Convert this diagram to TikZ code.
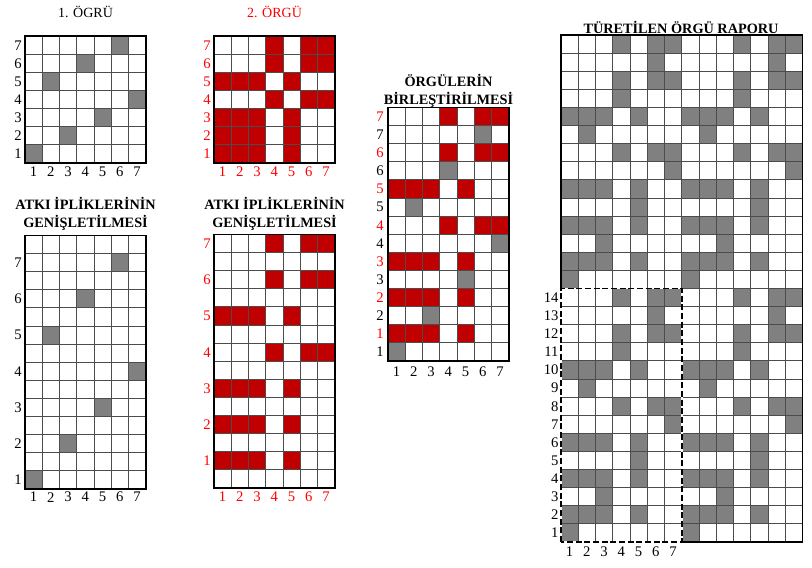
\documentclass[tikz,border=0pt]{standalone}
\usepackage{fontspec}
\setmainfont{Liberation Serif}
\usepackage{tikz}
\definecolor{weavegray}{RGB}{128,128,128}
\definecolor{weavered}{RGB}{192,0,0}
\definecolor{labelred}{RGB}{255,0,0}

\begin{document}
\begin{tikzpicture}[x=0.75pt,y=0.75pt,
  cell/.style={x=12.94pt,y=13.58pt},
  gridln/.style={gray!60!black,line width=0.7pt},
  frame/.style={black,line width=1.3pt},
  num/.style={font=\fontsize{11}{12}\selectfont,inner sep=1pt},
  rnum/.style={num,text=labelred},
  title/.style={font=\bfseries\fontsize{10.7}{13.5}\selectfont,align=center}]
\useasboundingbox (0,0) rectangle (812,567);

% 1. orgu
\node[font=\fontsize{10.5}{12}\selectfont] (t1) at (85.5,555) {1. ÖGRÜ};
\begin{scope}[shift={(25,404)},cell]
\foreach \c/\r in {1/1,3/2,5/3,7/4,2/5,4/6,6/7}
  \fill[weavegray] (\c-1,\r-1) rectangle ++(1,1);
\draw[gridln] (0,0) grid[step={(1,1)}] (7,7);
\draw[frame] (0,0) rectangle (7,7);
\foreach \i in {1,...,7}
{
  \node[num,anchor=east] (g1r\i) at (-0.1,\i-0.5) {\i};
  \node[num] (g1c\i) at (\i-0.5,-0.5) {\i};
}
\end{scope}

% 2. orgu
\node[font=\fontsize{10.5}{12}\selectfont,text=labelred] (t2) at (274.5,555) {2. ÖRGÜ};
\begin{scope}[shift={(214,404)},cell]
\foreach \r in {1,2,3,5}
  \foreach \c in {1,2,3,5}
    \fill[weavered] (\c-1,\r-1) rectangle ++(1,1);
\foreach \r in {4,6,7}
  \foreach \c in {4,6,7}
    \fill[weavered] (\c-1,\r-1) rectangle ++(1,1);
\draw[gridln] (0,0) grid[step={(1,1)}] (7,7);
\draw[frame] (0,0) rectangle (7,7);
\foreach \i in {1,...,7}
{
  \node[rnum,anchor=east] (g2r\i) at (-0.1,\i-0.5) {\i};
  \node[rnum] (g2c\i) at (\i-0.5,-0.5) {\i};
}
\end{scope}

% atki iplikleri (1)
\node[title] (t3) at (85.5,353) {ATKI İPLİKLERİNİN\\GENİŞLETİLMESİ};
\begin{scope}[shift={(25,78)},cell]
\foreach \c/\r in {1/1,3/2,5/3,7/4,2/5,4/6,6/7}
  \fill[weavegray] (\c-1,2*\r-2) rectangle ++(1,1);
\draw[gridln] (0,0) grid[step={(1,1)}] (7,14);
\draw[frame] (0,0) rectangle (7,14);
\foreach \i in {1,...,7}
{
  \node[num,anchor=east] (g3r\i) at (-0.1,2*\i-1.5) {\i};
  \node[num] (g3c\i) at (\i-0.5,-0.45) {\i};
}
\end{scope}

% atki iplikleri (2)
\node[title] (t4) at (274.5,353) {ATKI İPLİKLERİNİN\\GENİŞLETİLMESİ};
\begin{scope}[shift={(214,79)},cell]
\foreach \r in {1,2,3,5}
  \foreach \c in {1,2,3,5}
    \fill[weavered] (\c-1,2*\r-1) rectangle ++(1,1);
\foreach \r in {4,6,7}
  \foreach \c in {4,6,7}
    \fill[weavered] (\c-1,2*\r-1) rectangle ++(1,1);
\draw[gridln] (0,0) grid[step={(1,1)}] (7,14);
\draw[frame] (0,0) rectangle (7,14);
\foreach \i in {1,...,7}
{
  \node[rnum,anchor=east] (g4r\i) at (-0.1,2*\i-0.5) {\i};
  \node[rnum] (g4c\i) at (\i-0.5,-0.5) {\i};
}
\end{scope}

% birlestirme
\node[title] (t5) at (448.5,476.5) {ÖRGÜLERİN\\BİRLEŞTİRİLMESİ};
\begin{scope}[shift={(388,206)},cell]
\foreach \c/\r in {1/1,3/2,5/3,7/4,2/5,4/6,6/7}
  \fill[weavegray] (\c-1,2*\r-2) rectangle ++(1,1);
\foreach \r in {1,2,3,5}
  \foreach \c in {1,2,3,5}
    \fill[weavered] (\c-1,2*\r-1) rectangle ++(1,1);
\foreach \r in {4,6,7}
  \foreach \c in {4,6,7}
    \fill[weavered] (\c-1,2*\r-1) rectangle ++(1,1);
\draw[gridln] (0,0) grid[step={(1,1)}] (7,14);
\draw[frame] (0,0) rectangle (7,14);
\foreach \i in {1,...,7}
{
  \node[num,anchor=east] (g5r\i) at (-0.15,2*\i-1.5) {\i};
  \node[rnum,anchor=east] (g5s\i) at (-0.15,2*\i-0.5) {\i};
  \node[num] (g5c\i) at (\i-0.5,-0.6) {\i};
}
\end{scope}

% turetilen orgu raporu
\node[title] (t6) at (681,540) {TÜRETİLEN ÖRGÜ RAPORU};
\begin{scope}[shift={(561,25)},cell]
\foreach \dx in {0,7}
  \foreach \dy in {0,14}
    \foreach \c/\r in {1/1,1/2,2/2,3/2,5/2,3/3,1/4,2/4,3/4,5/4,5/5,1/6,2/6,3/6,5/6,
                       7/7,4/8,6/8,7/8,2/9,1/10,2/10,3/10,5/10,4/11,4/12,6/12,7/12,
                       6/13,4/14,6/14,7/14}
      \fill[weavegray] (\c-1+\dx,\r-1+\dy) rectangle ++(1,1);
\draw[gridln] (0,0) grid[step={(1,1)}] (14,28);
\draw[frame] (0,14) -- (0,28) -- (14,28) -- (14,0) -- (7,0);
\draw[white,line width=1.3pt] (0,0) rectangle (7,14);
\draw[frame,dash pattern=on 4.5pt off 2pt] (0,0) rectangle (7,14);
\foreach \i in {1,...,14}
  \node[num,anchor=east] (g6r\i) at (-0.05,\i-0.5) {\i};
\foreach \i in {1,...,7}
  \node[num] (g6c\i) at (\i-0.5,-0.55) {\i};
\end{scope}
\end{tikzpicture}
\end{document}
